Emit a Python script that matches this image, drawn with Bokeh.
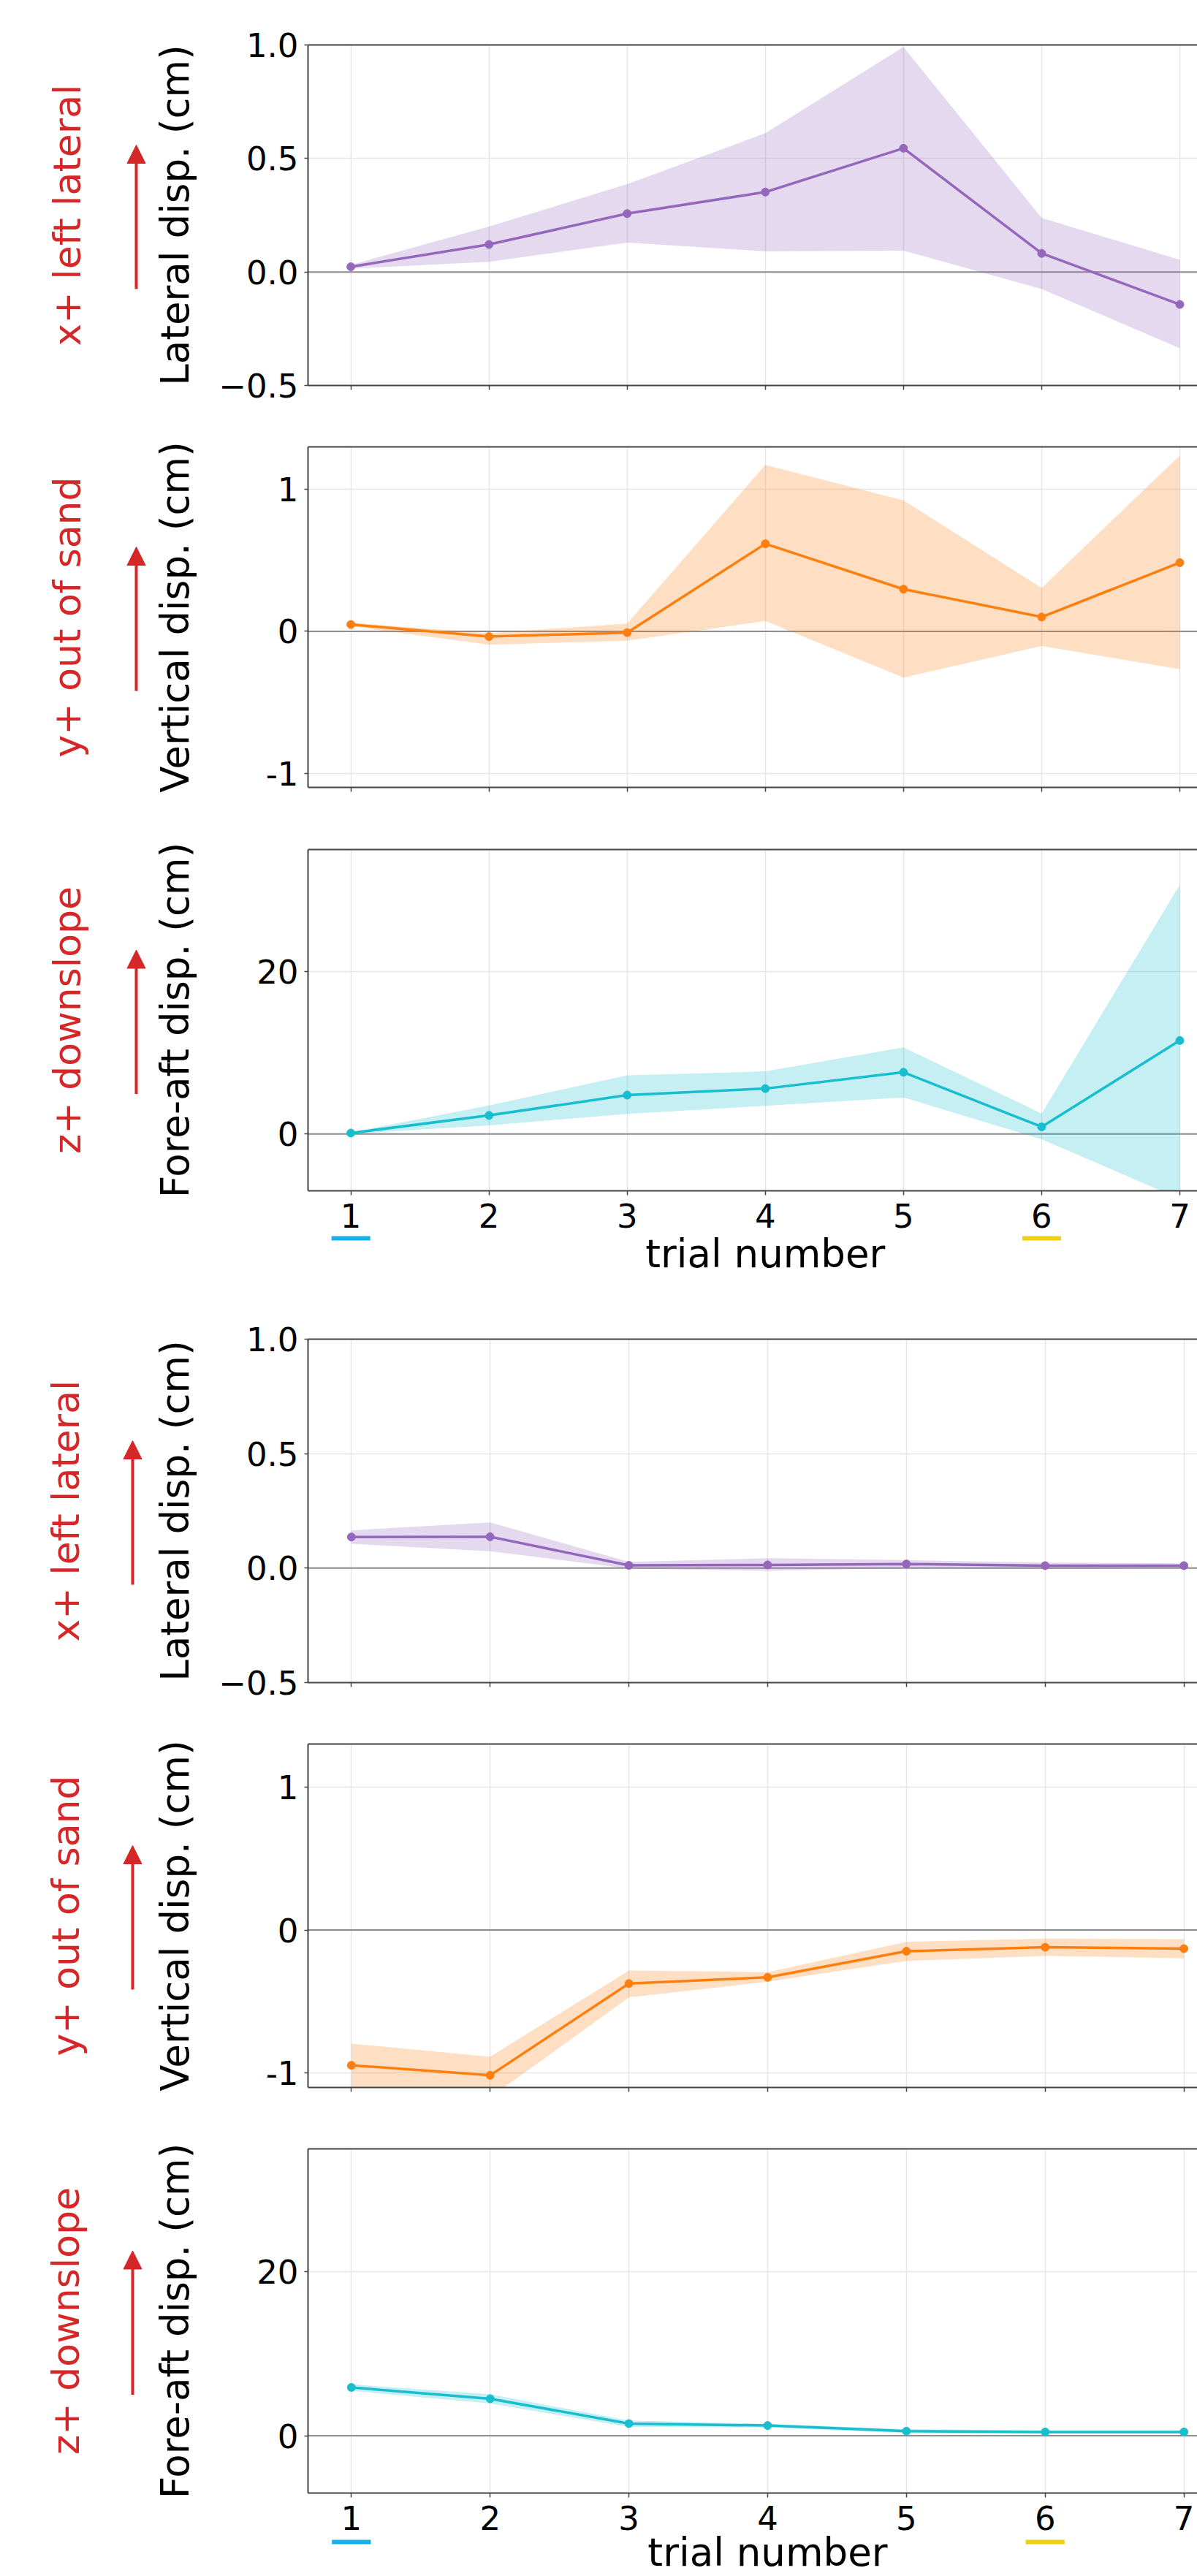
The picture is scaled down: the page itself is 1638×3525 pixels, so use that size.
from math import pi
import numpy as np
from bokeh.plotting import figure
from bokeh.layouts import column, row
from bokeh.models import Range1d, FixedTicker, LinearAxis, Span, Arrow, NormalHead
from bokeh.core.properties import value
from bokeh.embed import file_html
from bokeh.resources import INLINE

# ---------------- data ----------------
trials = [1, 2, 3, 4, 5, 6, 7]

# upper set of panels
lat_top_mean = [0.023, 0.121, 0.257, 0.352, 0.545, 0.082, -0.143]
lat_top_hi = [0.031, 0.200, 0.387, 0.611, 0.991, 0.238, 0.054]
lat_top_lo = [0.015, 0.045, 0.129, 0.091, 0.094, -0.075, -0.336]

ver_top_mean = [0.048, -0.037, -0.009, 0.617, 0.297, 0.101, 0.484]
ver_top_hi = [0.060, -0.013, 0.055, 1.172, 0.923, 0.306, 1.240]
ver_top_lo = [0.036, -0.095, -0.066, 0.073, -0.326, -0.103, -0.267]

fa_top_mean = [0.11, 2.28, 4.78, 5.58, 7.59, 0.87, 11.5]
fa_top_hi = [0.20, 3.50, 7.20, 7.70, 10.66, 2.50, 30.66]
fa_top_lo = [0.00, 1.06, 2.47, 3.45, 4.48, -0.65, -8.0]

# lower set of panels
lat_bot_mean = [0.136, 0.137, 0.012, 0.014, 0.018, 0.011, 0.011]
lat_bot_hi = [0.165, 0.200, 0.027, 0.043, 0.035, 0.024, 0.021]
lat_bot_lo = [0.106, 0.074, -0.002, -0.012, 0.000, -0.002, 0.000]

ver_bot_mean = [-0.945, -1.015, -0.374, -0.330, -0.148, -0.120, -0.130]
ver_bot_hi = [-0.794, -0.885, -0.283, -0.294, -0.082, -0.060, -0.064]
ver_bot_lo = [-1.15, -1.17, -0.471, -0.361, -0.215, -0.181, -0.197]

fa_bot_mean = [5.89, 4.51, 1.48, 1.24, 0.55, 0.45, 0.45]
fa_bot_hi = [6.27, 5.06, 1.86, 1.45, 0.80, 0.65, 0.65]
fa_bot_lo = [5.47, 3.92, 1.07, 1.00, 0.30, 0.24, 0.24]

# ticks and labels
lat_ticks = [-0.5, 0.0, 0.5, 1.0]
lat_tick_labels = ["\u22120.5", "0.0", "0.5", "1.0"]
ver_ticks = [-1, 0, 1]
ver_tick_labels = ["-1", "0", "1"]
fa_ticks = [0, 20]
fa_tick_labels = ["0", "20"]

y_titles = ["Lateral disp. (cm)", "Vertical disp. (cm)", "Fore-aft disp. (cm)"]
dir_titles = ["x+ left lateral", "y+ out of sand", "z+ downslope"]
x_title = "trial number"
highlight_trials = [1, 6]
highlight_colors = ["#17aee9", "#f2cf14"]

PURPLE = "#9467bd"
ORANGE = "#ff7f0e"
CYAN = "#17becf"
RED = "#d62728"
FONT = "DejaVu Sans"
SPINE = "#444444"

# ---------------- layout constants (page pixels) ----------------
TOTAL_W = 1638
TOTAL_H = 3525
LW = 288                      # width of the left label strip
MW = TOTAL_W - LW             # width of the plot column
TB = 8                        # bottom border of the last panel of each set (tick marks only)
FT = 42                       # top border of footers (holds the trial tick labels)


def style_panel(p, yticks, ytick_labels):
    p.outline_line_color = None
    p.background_fill_color = "white"
    p.border_fill_color = "white"
    p.xgrid.ticker = FixedTicker(ticks=trials)
    p.ygrid.ticker = FixedTicker(ticks=yticks)
    for g in (p.xgrid, p.ygrid):
        g.grid_line_color = "#e6e6e6"
        g.grid_line_width = 1.5

    ya = p.yaxis[0]
    ya.ticker = FixedTicker(ticks=yticks)
    ya.major_label_overrides = {float(t): s for t, s in zip(yticks, ytick_labels)}
    ya.major_label_text_font = FONT
    ya.major_label_text_font_size = "45px"
    ya.major_label_text_color = "black"
    ya.major_tick_out = 5
    ya.major_tick_in = 0
    ya.major_label_standoff = 8
    ya.minor_tick_line_color = None
    ya.axis_line_color = SPINE
    ya.axis_line_width = 2
    ya.major_tick_line_color = SPINE
    ya.major_tick_line_width = 1.5

    xa = p.xaxis[0]
    xa.ticker = FixedTicker(ticks=trials)
    xa.major_label_text_font_size = "1px"
    xa.major_label_overrides = {float(t): "" for t in trials}
    xa.major_tick_out = 6
    xa.major_tick_in = 0
    xa.major_label_standoff = 0
    xa.minor_tick_line_color = None
    xa.axis_line_color = SPINE
    xa.axis_line_width = 2
    xa.major_tick_line_color = SPINE
    xa.major_tick_line_width = 1.5

    ta = LinearAxis(ticker=FixedTicker(ticks=[]),
                    major_tick_out=0, major_tick_in=0, minor_tick_out=0, minor_tick_in=0,
                    axis_line_color=SPINE, axis_line_width=2)
    p.add_layout(ta, "above")

    p.add_layout(Span(location=0, dimension="width", line_color="#8c8c8c",
                      line_width=2, level="underlay"))


def panel(mean, lo, hi, color, xr, yr, yticks, ytick_labels, frame_left, top, fh, bottom):
    p = figure(width=MW, height=top + fh + bottom, x_range=xr, y_range=Range1d(*yr),
               output_backend="svg", toolbar_location=None,
               min_border_left=frame_left - LW, min_border_right=0,
               min_border_top=top, min_border_bottom=bottom)
    style_panel(p, yticks, ytick_labels)
    p.varea(x=trials, y1=lo, y2=hi, fill_color=color, fill_alpha=0.25)
    p.line(trials, mean, line_color=color, line_width=3.5)
    p.scatter(trials, mean, size=11, fill_color=color, line_color=color)
    return p


def footer(xr, frame_left, h, bar_from_top, label_anchor_from_top):
    """Strip under the last panel of a set: trial tick labels (axis above),
    highlight bars and the x-axis title."""
    fh = h - FT
    f = figure(width=MW, height=h, x_range=xr, y_range=Range1d(0, fh),
               output_backend="svg", toolbar_location=None,
               x_axis_location="above", y_axis_location=None,
               min_border_left=frame_left - LW, min_border_right=0,
               min_border_top=FT, min_border_bottom=0)
    f.outline_line_color = None
    f.grid.visible = False
    xa = f.xaxis[0]
    xa.ticker = FixedTicker(ticks=trials)
    xa.major_label_text_font = FONT
    xa.major_label_text_font_size = "45px"
    xa.major_label_text_color = "black"
    xa.major_label_standoff = 0
    xa.major_tick_out = 0
    xa.major_tick_in = 0
    xa.minor_tick_out = 0
    xa.minor_tick_in = 0
    xa.axis_line_color = None
    xa.major_tick_line_color = None
    xa.minor_tick_line_color = None

    yb = fh - bar_from_top
    f.segment(x0=[t - 0.14 for t in highlight_trials], x1=[t + 0.14 for t in highlight_trials],
              y0=[yb] * len(highlight_trials), y1=[yb] * len(highlight_trials),
              line_color=highlight_colors, line_width=6)
    f.text(x=[float(np.mean(trials))], y=[fh - label_anchor_from_top], text=[x_title],
           text_align="center", text_baseline="alphabetic",
           text_font=value(FONT), text_font_size=value("53px"), text_color="black")
    return f


xr_top = Range1d(0.69, 7.127)
xr_bot = Range1d(0.6875, 7.097)

p1 = panel(lat_top_mean, lat_top_lo, lat_top_hi, PURPLE, xr_top, (-0.5, 1.0), lat_ticks, lat_tick_labels, 421, 61, 466, 42)
p2 = panel(ver_top_mean, ver_top_lo, ver_top_hi, ORANGE, xr_top, (-1.1, 1.3), ver_ticks, ver_tick_labels, 421, 42, 466, 43)
p3 = panel(fa_top_mean, fa_top_lo, fa_top_hi, CYAN, xr_top, (-7, 35), fa_ticks, fa_tick_labels, 421, 42, 467, TB)
f3 = footer(xr_top, 421, 143, 15, 36)      # page y 1637 .. 1780
p4 = panel(lat_bot_mean, lat_bot_lo, lat_bot_hi, PURPLE, xr_bot, (-0.5, 1.0), lat_ticks, lat_tick_labels, 418, 52, 470, 42)
p5 = panel(ver_bot_mean, ver_bot_lo, ver_bot_hi, ORANGE, xr_bot, (-1.1, 1.3), ver_ticks, ver_tick_labels, 418, 42, 470, 42)
p6 = panel(fa_bot_mean, fa_bot_lo, fa_bot_hi, CYAN, xr_bot, (-7, 35), fa_ticks, fa_tick_labels, 418, 42, 471, TB)
f6 = footer(xr_bot, 418, 106, 17, 31)      # page y 3419 .. 3525

# ---------------- left strip with axis titles and direction arrows ----------------
frame_centres = [294, 844, 1395.5, 2067, 2621, 3175.5]     # page y of panel centres
black_anchor_x = [239, 239, 239, 239, 239, 239]
red_anchor_x = [91, 91, 91, 89, 89, 89]
arrow_x = [186, 186, 186, 181, 181, 181]

left = figure(width=LW, height=TOTAL_H, x_range=Range1d(0, LW), y_range=Range1d(0, TOTAL_H),
              output_backend="svg", toolbar_location=None,
              x_axis_location=None, y_axis_location=None,
              min_border_left=0, min_border_right=0, min_border_top=0, min_border_bottom=0)
left.outline_line_color = None
left.grid.visible = False


def ly(page_y):
    return TOTAL_H - page_y


left.text(x=black_anchor_x, y=[ly(c) for c in frame_centres],
          text=y_titles * 2, angle=pi / 2, text_align="center", text_baseline="alphabetic",
          text_font=value(FONT), text_font_size=value("53px"), text_color="black")
left.text(x=red_anchor_x, y=[ly(c) for c in frame_centres],
          text=dir_titles * 2, angle=pi / 2, text_align="center", text_baseline="alphabetic",
          text_font=value(FONT), text_font_size=value("52px"), text_color=RED)
for c, ax in zip(frame_centres, arrow_x):
    left.add_layout(Arrow(end=NormalHead(size=25, fill_color=RED, line_color=RED),
                          x_start=ax, y_start=ly(c + 101), x_end=ax, y_end=ly(c - 96),
                          line_color=RED, line_width=4))

plots = column(p1, p2, p3, f3, p4, p5, p6, f6)
layout = row(left, plots)
open("out.html", "w").write(file_html(layout, INLINE))
